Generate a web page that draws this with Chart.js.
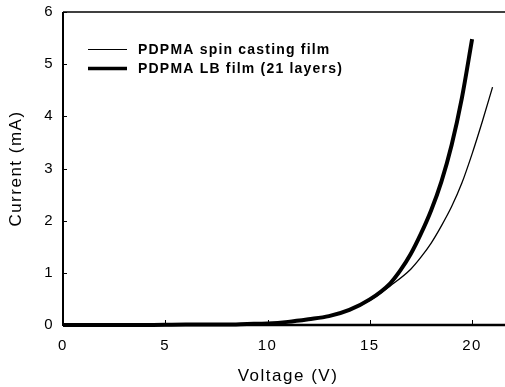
<!DOCTYPE html>
<html>
<head>
<meta charset="utf-8">
<script src="https://cdn.jsdelivr.net/npm/chart.js@4.4.1/dist/chart.umd.min.js"></script>
<style>
html,body{margin:0;padding:0;background:#fff;overflow:hidden;}
#wrap{width:505px;height:387px;overflow:hidden;}
#box{width:520px;height:387px;}
</style>
</head>
<body>
<div id="wrap"><div id="box"><canvas id="c" width="520" height="387"></canvas></div></div>
<script>
// Spin casting film (thin line)
const spinVoltage = [0, 2, 4, 6, 8, 9, 10, 11, 12, 13, 14, 15, 16, 17, 17.5, 18, 18.5, 19, 19.5, 20, 20.5, 21];
const spinCurrent = [0, 0, 0, 0.01, 0.01, 0.015, 0.02, 0.05, 0.10, 0.16, 0.28, 0.47, 0.75, 1.07, 1.30, 1.57, 1.90, 2.27, 2.72, 3.28, 3.90, 4.56];
// LB film, 21 layers (thick line)
const lbVoltage = [0, 2, 4, 6, 8, 9, 10, 11, 12, 13, 14, 15, 16, 16.5, 17, 17.5, 18, 18.5, 19, 19.5, 20];
const lbCurrent = [0, 0, 0, 0.01, 0.01, 0.02, 0.03, 0.06, 0.11, 0.17, 0.29, 0.49, 0.80, 1.05, 1.36, 1.75, 2.20, 2.75, 3.45, 4.35, 5.48];
const seriesLabels = ["PDPMA spin casting film", "PDPMA LB film (21 layers)"];
const xTicks = [0, 5, 10, 15, 20];
const yTicks = [0, 1, 2, 3, 4, 5, 6];
const xTitle = "Voltage (V)";
const yTitle = "Current (mA)";

const toPts = (xs, ys) => xs.map((x, i) => ({x: x, y: ys[i]}));

const frame = {
  id: 'frame',
  beforeDraw(chart) { chart.ctx.letterSpacing = '1.5px'; },
  afterDraw(chart) {
    const {ctx, chartArea: a, scales} = chart;
    ctx.save();
    ctx.letterSpacing = '0px';
    ctx.strokeStyle = '#000';
    ctx.lineWidth = 2;
    ctx.beginPath(); ctx.moveTo(a.left, a.top); ctx.lineTo(a.left, a.bottom + 1); ctx.stroke();
    ctx.lineWidth = 2.5;
    ctx.beginPath(); ctx.moveTo(a.left, a.bottom); ctx.lineTo(a.right, a.bottom); ctx.stroke();
    ctx.lineWidth = 1.5;
    ctx.beginPath(); ctx.moveTo(a.left, a.top); ctx.lineTo(a.right, a.top); ctx.stroke();
    ctx.lineWidth = 1;
    yTicks.forEach(v => {
      const y = Math.round(scales.y.getPixelForValue(v)) + 0.5;
      ctx.beginPath(); ctx.moveTo(a.left, y); ctx.lineTo(a.left + 4, y); ctx.stroke();
    });
    xTicks.forEach(v => {
      const x = Math.round(scales.x.getPixelForValue(v)) + 0.5;
      ctx.beginPath(); ctx.moveTo(x, a.bottom); ctx.lineTo(x, a.bottom - 5); ctx.stroke();
    });
    ctx.letterSpacing = '1.2px';
    ctx.font = 'bold 14px "Liberation Sans", Arial, sans-serif';
    ctx.fillStyle = '#000';
    ctx.textBaseline = 'middle';
    ctx.textAlign = 'left';
    const rows = [{y: 49.5, w: 1.2}, {y: 68.5, w: 3.5}];
    chart.data.datasets.forEach((ds, i) => {
      const r = rows[i];
      ctx.lineWidth = r.w;
      ctx.beginPath(); ctx.moveTo(88, r.y); ctx.lineTo(127, r.y); ctx.stroke();
      ctx.fillText(ds.label, 138, r.y + 0.5);
    });
    ctx.restore();
  }
};

new Chart(document.getElementById('c'), {
  type: 'line',
  data: {
    datasets: [
      {label: seriesLabels[0], data: toPts(spinVoltage, spinCurrent), borderColor: '#000', borderWidth: 1.3,
       pointRadius: 0, cubicInterpolationMode: 'monotone', fill: false, clip: 4},
      {label: seriesLabels[1], data: toPts(lbVoltage, lbCurrent), borderColor: '#000', borderWidth: 4,
       pointRadius: 0, cubicInterpolationMode: 'monotone', fill: false, clip: 4}
    ]
  },
  options: {
    responsive: false,
    animation: false,
    layout: {padding: {top: 12, right: 7, left: 0, bottom: 0}},
    plugins: {legend: {display: false}, tooltip: {enabled: false}},
    scales: {
      x: {
        type: 'linear', min: 0, max: 22,
        afterFit(s) { s.height = 62; s.paddingLeft = 0; s.paddingRight = 0; },
        afterBuildTicks(s) { s.ticks = xTicks.map(v => ({value: v})); },
        grid: {display: false, drawTicks: false},
        border: {display: false},
        ticks: {color: '#000', font: {family: '"Liberation Sans", Arial, sans-serif', size: 15}, padding: 12, maxRotation: 0},
        title: {display: true, text: xTitle, color: '#000', font: {family: '"Liberation Sans", Arial, sans-serif', size: 17}, padding: {top: 0, bottom: 0}}
      },
      y: {
        type: 'linear', min: 0, max: 6,
        afterFit(s) { s.width = 63; s.paddingTop = 0; s.paddingBottom = 0; },
        afterBuildTicks(s) { s.ticks = yTicks.map(v => ({value: v})); },
        grid: {display: false, drawTicks: false},
        border: {display: false},
        ticks: {color: '#000', font: {family: '"Liberation Sans", Arial, sans-serif', size: 15}, padding: 9},
        title: {display: true, text: yTitle, color: '#000', font: {family: '"Liberation Sans", Arial, sans-serif', size: 17}, padding: {top: 6, bottom: 0}}
      }
    }
  },
  plugins: [frame]
});
</script>
</body>
</html>
